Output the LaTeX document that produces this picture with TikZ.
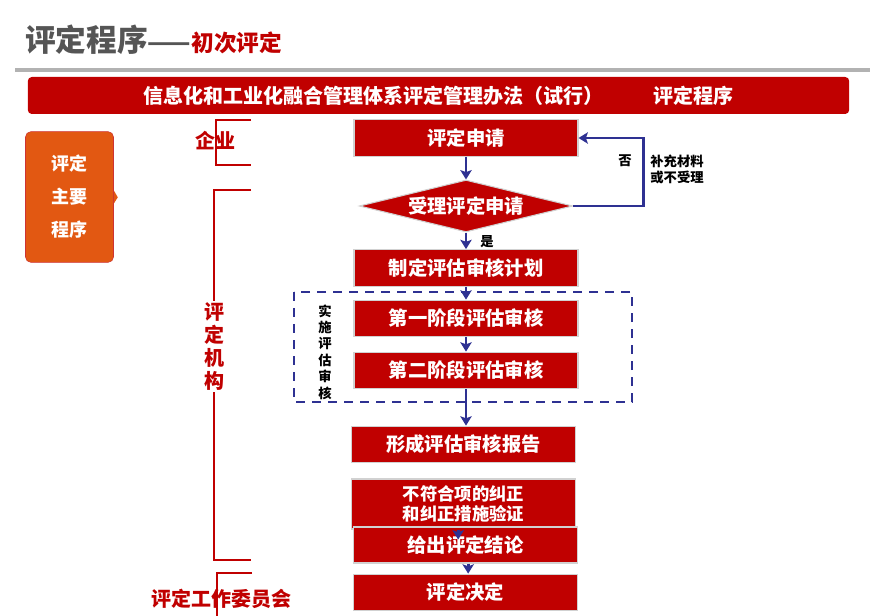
\documentclass[tikz,border=0pt]{standalone}
\usepackage{fontspec}
\setmainfont{Noto Sans CJK SC}
\usetikzlibrary{arrows.meta,shapes.geometric}
\definecolor{zred}{RGB}{192,0,0}
\definecolor{zblue}{RGB}{46,49,146}
\definecolor{ztitle}{RGB}{85,85,85}
\definecolor{zorange}{RGB}{226,88,18}
\tikzset{
  stepbox/.style={fill=zred, draw=black!18, line width=0.8pt, text=white,
    font=\bfseries\fontsize{14.5}{17}\selectfont,
    minimum width=168pt, minimum height=27.5pt, inner sep=0pt},
  flow/.style={draw=zblue, line width=2.1pt, -{Stealth[length=7pt,width=8.5pt,inset=1.5pt]}},
  side/.style={text=zred, font=\bfseries\fontsize{15}{17.25}\selectfont, inner sep=1pt},
  bracket/.style={draw=zred, line width=0.8pt},
  note/.style={font=\bfseries\fontsize{10}{12}\selectfont, inner sep=0pt},
}

\begin{document}
\begin{tikzpicture}[x=0.75pt,y=-0.75pt]
\useasboundingbox (0,0) rectangle (870,616);

% Title and rule
\node[anchor=west, text=ztitle, inner sep=0pt, font=\bfseries\fontsize{23}{26}\selectfont] (title) at (25,40)
  {评定程序{\fontsize{19}{20}\selectfont ——}{\fontsize{17}{20}\selectfont\textcolor{zred}{初次评定}}};
\draw[line width=3pt, black!30] (15,70) -- (870,70);

% Banner
\node[fill=zred, rounded corners=3pt, minimum width=616pt, minimum height=27.75pt, text=white,
  font=\bfseries\fontsize{15}{17}\selectfont] (banner) at (438.5,95.5)
  {信息化和工业化融合管理体系评定管理办法（试行）\hspace{38pt}评定程序};

% Left tab
\node[fill=zorange, draw=zred!80, rounded corners=4pt, minimum width=66pt, minimum height=98pt,
  text=white, align=center, font=\bfseries\fontsize{13.5}{24.75}\selectfont] (main) at (69.5,197)
  {评定\\主要\\程序};
\fill[zorange] ([yshift=5pt]main.east) -- ++(4,7) -- ([yshift=-5pt]main.east) -- cycle;

% Brackets on the left
\draw[bracket] (251,120) -- (216,120) -- (216,165) -- (251,165);
\node[side] (firm) at (215,141) {企业};
\draw[bracket] (251,190) -- (214,190) -- (214,560) -- (251,560);
\node[side, fill=white, align=center] (org) at (214,346.5) {评\\定\\机\\构};
\draw[bracket] (252,573) -- (217,573) -- (217,616);
\node[side] (board) at (221,599) {评定工作委员会};

% Steps
\node[stepbox] (apply) at (466,138) {评定申请};
\node[stepbox, diamond, aspect=4, minimum width=160pt, minimum height=39pt] (accept) at (466,206) {受理评定申请};
\node[stepbox] (plan) at (466,268) {制定评估审核计划};
\draw[zblue, line width=1.4pt, dash pattern=on 7pt off 5pt] (294,292) rectangle (632,402);
\node[stepbox] (stage1) at (466,318.5) {第一阶段评估审核};
\node[stepbox] (stage2) at (466,370.5) {第二阶段评估审核};
\node[note, align=center, font=\bfseries\fontsize{10}{12.3}\selectfont] (impl) at (325,352) {实\\施\\评\\估\\审\\核};
\node[stepbox] (report) at (463.5,444.5) {形成评估审核报告};
\node[stepbox, align=center, minimum height=37.5pt, font=\bfseries\fontsize{13}{14.5}\selectfont] (fix) at (463.5,504)
  {不符合项的纠正\\和纠正措施验证};
\node[stepbox, minimum height=27pt] (result) at (465.5,545) {给出评定结论};
\node[stepbox] (decide) at (465.5,592.5) {评定决定};

% Connectors
\draw[flow] (apply) -- (accept);
\draw[flow] (accept) -- (plan);
\node[note] (yes) at (487,242) {是};
\draw[flow] (accept.east) -- ++(70,0) |- (apply.east);
\node[note] (no) at (625,161) {否};
\node[note, align=center] (reason) at (677,169.5) {补充材料\\或不受理};
\draw[flow] (plan) -- (stage1);
\draw[flow] (stage1) -- (stage2);
\draw[flow] (stage2.south) -- (stage2.south |- report.north);
\draw[flow] ([xshift=-4pt]fix.south) -- ++(0,10);
\draw[flow] ([xshift=2pt]result.south) -- ([xshift=2pt]result.south |- decide.north);
\end{tikzpicture}
\end{document}
